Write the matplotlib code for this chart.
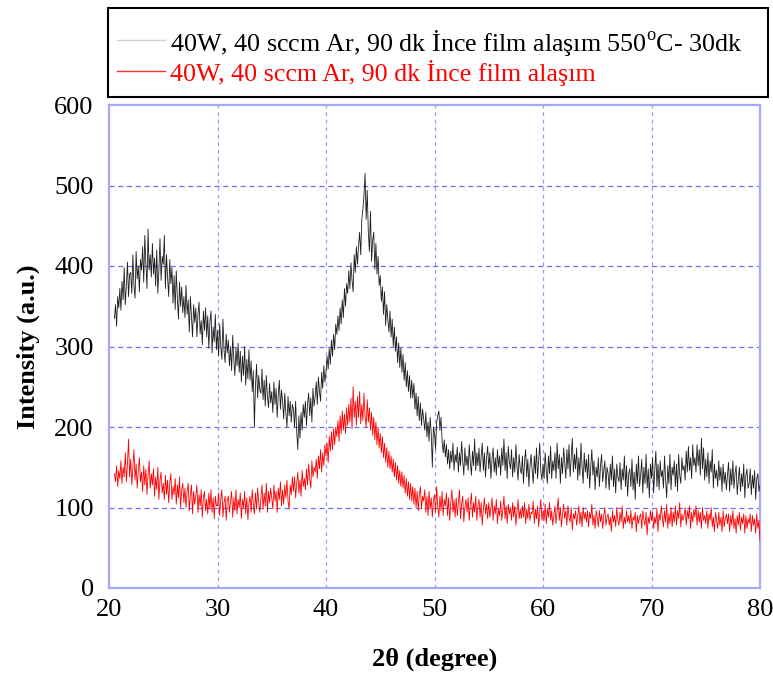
import numpy as np
import matplotlib
matplotlib.use("Agg")
import matplotlib.pyplot as plt
from matplotlib.lines import Line2D
from matplotlib.patches import Rectangle

plt.rcParams['font.family'] = ['Liberation Serif', 'DejaVu Serif']
plt.rcParams['mathtext.fontset'] = 'custom'
plt.rcParams['mathtext.rm'] = 'Liberation Serif'

# 2-theta scan, 20.5 .. 80.0 degrees in 0.1 degree steps
two_theta = np.round(np.linspace(20.5, 80.0, 596), 1)

# Annealed film (550 C, 30 min)
annealed = [
    335, 352, 325, 362, 348,
    372, 345, 381, 358, 398, 352, 376, 405, 362, 390,
    392, 366, 414, 376, 360, 418, 384, 400, 368, 408,
    395, 424, 380, 438, 402, 372, 446, 395, 414, 386,
    428, 390, 410, 375, 420, 366, 395, 434, 382, 412,
    402, 438, 372, 414, 386, 362, 408, 378, 398, 354,
    388, 346, 394, 360, 334, 380, 350, 374, 342, 362,
    336, 376, 340, 358, 318, 362, 338, 312, 352, 330,
    348, 312, 340, 355, 316, 332, 302, 344, 320, 348,
    312, 338, 298, 330, 344, 292, 324, 306, 340, 296,
    320, 288, 328, 300, 284, 334, 296, 280, 315, 292,
    308, 276, 300, 270, 314, 284, 264, 298, 276, 304,
    268, 294, 256, 288, 264, 300, 252, 284, 260, 296,
    258, 282, 244, 270, 200, 252, 278, 236, 264, 246,
    242, 272, 234, 258, 226, 264, 238, 224, 254, 230,
    244, 218, 256, 228, 248, 212, 240, 258, 222, 246,
    232, 210, 242, 218, 200, 238, 214, 232, 206, 228,
    222, 200, 232, 194, 172, 214, 186, 218, 196, 228,
    212, 232, 202, 228, 242, 214, 236, 206, 248, 226,
    238, 256, 228, 262, 244, 232, 268, 248, 276, 256,
    268, 288, 272, 298, 278, 308, 288, 315, 296, 328,
    315, 338, 320, 348, 328, 358, 336, 372, 350, 378,
    366, 394, 372, 404, 382, 368, 414, 392, 424, 402,
    425, 442, 414, 458, 470, 488, 515, 458, 494, 442,
    418, 468, 406, 432, 442, 396, 428, 390, 412, 376,
    388, 356, 374, 340, 368, 326, 352, 334, 318, 344,
    312, 334, 300, 324, 294, 312, 280, 304, 274, 298,
    268, 290, 258, 280, 250, 270, 244, 264, 236, 258,
    236, 254, 222, 242, 214, 238, 208, 230, 202, 222,
    210, 196, 218, 188, 206, 182, 212, 192, 150, 200,
    192, 172, 206, 214, 220, 196, 212, 182, 168, 184,
    163, 178, 154, 172, 148, 170, 156, 180, 146, 166,
    156, 175, 144, 168, 152, 182, 158, 140, 174, 152,
    164, 146, 178, 156, 140, 170, 152, 185, 146, 168,
    152, 174, 144, 164, 180, 146, 168, 138, 162, 176,
    148, 168, 136, 160, 174, 144, 162, 140, 172, 150,
    164, 140, 174, 152, 185, 146, 168, 136, 176, 156,
    148, 172, 138, 162, 144, 178, 152, 134, 166, 148,
    142, 164, 130, 158, 172, 138, 160, 126, 152, 166,
    146, 130, 164, 142, 174, 136, 158, 180, 144, 134,
    154, 136, 168, 146, 130, 164, 142, 176, 136, 158,
    146, 168, 136, 180, 148, 166, 130, 162, 142, 174,
    156, 136, 172, 148, 178, 138, 162, 186, 144, 166,
    148, 174, 134, 162, 140, 180, 150, 130, 168, 144,
    160, 136, 166, 124, 150, 172, 140, 158, 122, 150,
    138, 162, 126, 152, 166, 132, 146, 158, 124, 150,
    142, 122, 154, 134, 164, 126, 148, 118, 154, 138,
    132, 156, 122, 148, 134, 164, 126, 152, 114, 142,
    148, 126, 160, 122, 144, 110, 154, 130, 164, 126,
    140, 160, 118, 150, 130, 166, 124, 148, 112, 154,
    136, 162, 118, 146, 170, 126, 154, 122, 158, 138,
    146, 124, 164, 134, 112, 152, 130, 166, 122, 150,
    140, 158, 126, 154, 120, 166, 140, 130, 162, 146,
    152, 134, 170, 144, 176, 146, 162, 136, 178, 152,
    162, 144, 178, 152, 172, 140, 186, 148, 174, 134,
    160, 138, 168, 130, 158, 144, 172, 124, 154, 136,
    146, 126, 158, 134, 150, 120, 154, 130, 144, 122,
    140, 156, 120, 148, 128, 158, 124, 142, 152, 116,
    134, 150, 120, 142, 126, 154, 112, 140, 148, 124,
    130, 148, 116, 140, 124, 146, 110, 136, 142, 120,
    128,
]

# As-deposited film
as_deposited = [
    142, 132, 152, 126, 146,
    136, 158, 130, 150, 138, 168, 132, 154, 185, 138,
    160, 128, 150, 172, 134, 154, 124, 146, 162, 132,
    144, 120, 152, 128, 148, 116, 140, 158, 124, 142,
    128, 148, 114, 138, 122, 150, 110, 134, 144, 118,
    130, 110, 140, 116, 134, 106, 130, 142, 110, 126,
    116, 136, 104, 128, 112, 138, 100, 122, 130, 106,
    124, 100, 120, 130, 96, 116, 128, 92, 120, 104,
    114, 128, 94, 116, 102, 122, 88, 112, 120, 96,
    110, 92, 118, 98, 122, 94, 112, 86, 114, 102,
    102, 118, 90, 110, 122, 88, 106, 114, 84, 110,
    114, 94, 108, 120, 88, 112, 96, 122, 92, 110,
    100, 118, 86, 110, 100, 120, 92, 112, 85, 106,
    114, 94, 122, 104, 92, 118, 98, 124, 106, 94,
    112, 128, 98, 118, 102, 130, 94, 120, 106, 124,
    112, 98, 128, 108, 120, 94, 124, 110, 132, 102,
    122, 104, 128, 112, 134, 108, 98, 128, 116, 138,
    120, 138, 112, 130, 144, 118, 134, 114, 146, 126,
    136, 122, 148, 128, 154, 136, 124, 158, 138, 150,
    144, 160, 136, 164, 148, 172, 144, 168, 152, 178,
    164, 180, 156, 188, 170, 194, 172, 198, 178, 200,
    188, 208, 182, 214, 192, 220, 196, 216, 192, 224,
    202, 228, 206, 236, 198, 250, 212, 232, 202, 238,
    212, 244, 204, 228, 208, 242, 214, 200, 234, 206,
    224, 196, 218, 190, 212, 184, 206, 178, 200, 174,
    192, 168, 188, 162, 180, 156, 174, 150, 170, 148,
    164, 144, 160, 138, 156, 134, 152, 130, 146, 126,
    144, 124, 140, 118, 136, 114, 132, 110, 130, 108,
    126, 104, 124, 100, 120, 96, 116, 126, 98, 114,
    108, 122, 94, 114, 90, 120, 98, 112, 88, 110,
    116, 94, 126, 102, 88, 114, 96, 120, 90, 110,
    102, 118, 90, 112, 84, 106, 122, 94, 110, 88,
    112, 90, 106, 122, 86, 104, 114, 82, 100, 110,
    94, 112, 84, 104, 118, 88, 106, 94, 114, 84,
    102, 110, 88, 106, 78, 98, 112, 92, 104, 86,
    106, 88, 98, 112, 84, 102, 92, 110, 80, 98,
    90, 108, 84, 98, 114, 86, 102, 80, 104, 92,
    100, 84, 106, 88, 102, 78, 94, 110, 86, 98,
    86, 102, 88, 106, 80, 98, 86, 104, 84, 94,
    92, 108, 80, 98, 86, 102, 76, 94, 110, 84,
    96, 84, 104, 80, 98, 88, 106, 84, 96, 78,
    90, 102, 80, 96, 112, 84, 100, 76, 92, 104,
    86, 96, 78, 102, 88, 82, 100, 72, 92, 86,
    96, 78, 90, 102, 80, 94, 76, 100, 86, 94,
    82, 96, 76, 94, 86, 104, 78, 90, 74, 96,
    88, 76, 96, 82, 92, 74, 90, 100, 78, 88,
    92, 78, 88, 70, 96, 82, 90, 76, 100, 84,
    78, 94, 82, 102, 74, 88, 80, 96, 82, 90,
    80, 96, 74, 88, 84, 94, 70, 90, 80, 88,
    92, 74, 96, 84, 78, 94, 66, 88, 80, 96,
    84, 94, 74, 88, 80, 98, 70, 92, 84, 102,
    88, 76, 96, 82, 104, 74, 92, 80, 100, 76,
    94, 82, 102, 78, 96, 86, 106, 76, 92, 84,
    90, 100, 78, 96, 86, 102, 74, 94, 82, 98,
    88, 102, 78, 96, 82, 94, 74, 100, 84, 90,
    80, 96, 74, 92, 84, 100, 76, 88, 70, 94,
    84, 74, 94, 78, 88, 70, 96, 76, 86, 92,
    80, 92, 70, 90, 78, 96, 74, 86, 68, 90,
    78, 94, 72, 88, 80, 92, 68, 90, 74, 86,
    80, 92, 70, 90, 78, 86, 68, 92, 74, 84,
    58,
]

labels = [
    "40W, 40 sccm Ar, 90 dk İnce film alaşım 550$^{\\mathrm{o}}$C- 30dk",
    "40W, 40 sccm Ar, 90 dk İnce film alaşım",
]
x_ticks = [20, 30, 40, 50, 60, 70, 80]
y_ticks = [0, 100, 200, 300, 400, 500, 600]

W, H = 773, 677
fig = plt.figure(figsize=(W / 100, H / 100), dpi=100)
ax = fig.add_axes([109 / W, 1 - 588 / H, (760 - 109) / W, (588 - 105) / H])

ax.plot(two_theta, annealed, color='#1e1e1e', lw=0.6, zorder=3)
ax.plot(two_theta, as_deposited, color='#ff0000', lw=0.6, zorder=3)

ax.set_xlim(20, 80)
ax.set_ylim(0, 600)
ax.set_xticks(x_ticks)
ax.set_yticks(y_ticks)
ax.tick_params(length=0, labelsize=19, colors='black')
ax.tick_params(axis='y', pad=11)
ax.tick_params(axis='x', pad=8)

for y in y_ticks[1:-1]:
    ax.axhline(y, color='#6e6ef0', lw=0.9, ls=(0, (4, 3)), zorder=1)
for x in x_ticks[1:-1]:
    ax.axvline(x, color='#9a9af5', lw=0.9, ls=(0, (3, 3)), zorder=1)

for s in ax.spines.values():
    s.set_color('#a8a8f8')
    s.set_linewidth(1.6)

ax.set_xlabel("2θ (degree)", fontsize=19, fontweight='bold', labelpad=19)
ax.set_ylabel("Intensity (a.u.)", fontsize=19, fontweight='bold', labelpad=10)

# Legend box above the axes
fig.add_artist(Rectangle((108 / W, 1 - 97 / H), (768 - 108) / W, (97 - 8) / H,
                         transform=fig.transFigure, fill=False,
                         edgecolor='black', lw=1.5))
legend_rows = [(40, 43, '#d0d0d0', 'black', labels[0]),
               (71, 73, '#ff3030', '#ff0000', labels[1])]
for yl, yt, lc, tc, txt in legend_rows:
    fig.add_artist(Line2D([117 / W, 165 / W], [1 - yl / H, 1 - yl / H],
                          transform=fig.transFigure, color=lc, lw=1.0))
    fig.text(170 / W, 1 - yt / H, txt, color=tc, fontsize=18.7, va='center', ha='left')

fig.savefig("out.png", dpi=100)
